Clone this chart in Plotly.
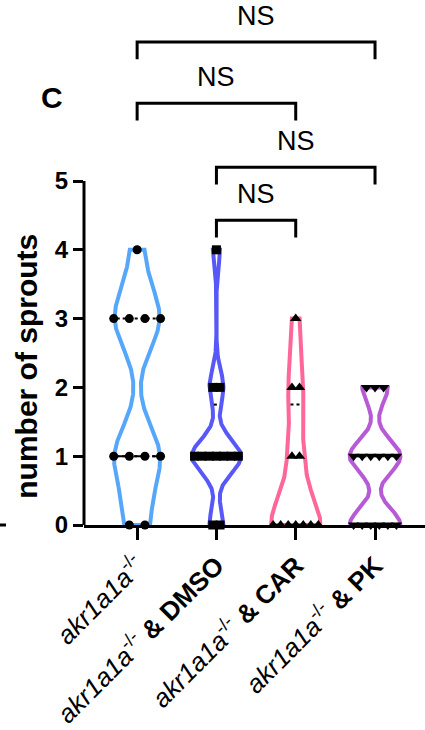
import numpy as np
import plotly.graph_objects as go

# ---------------- data ----------------
group_names = ["akr1a1a-/-", "akr1a1a-/- & DMSO", "akr1a1a-/- & CAR", "akr1a1a-/- & PK"]
tick_labels = [
    "<i>akr1a1a</i><sup>-/-</sup>",
    "<i>akr1a1a</i><sup>-/-</sup><b> & DMSO</b>",
    "<i>akr1a1a</i><sup>-/-</sup><b> & CAR</b>",
    "<i>akr1a1a</i><sup>-/-</sup><b> & PK</b>",
]
akr_values = [0, 0, 1, 1, 1, 1, 3, 3, 3, 3, 4]
dmso_values = [0, 0, 1, 1, 1, 1, 1, 1, 1, 2, 2, 4]
car_values = [0, 0, 0, 0, 0, 0, 0, 1, 1, 2, 2, 3]
pk_values = [0, 0, 0, 0, 0, 0, 1, 1, 1, 1, 1, 1, 2, 2, 2]
y_ticks = [0, 1, 2, 3, 4, 5]
comparisons = [(0, 3, "NS"), (0, 2, "NS"), (1, 3, "NS"), (1, 2, "NS")]

all_values = [akr_values, dmso_values, car_values, pk_values]

# ---------------- style ----------------
colors = ["#56A6FA", "#5858F8", "#FF6699", "#B75AD6"]
symbols = ["circle", "square", "triangle-up", "triangle-down"]
marker_sizes = [9, 9, 10, 10]
point_spacing = [0.197, 0.092, 0.095, 0.108]
violin_widths = [0.58, 0.62, 0.62, 0.64]
bandwidths = [0.45, 0.25, 0.42, 0.24]
VLW = 4
FONT = "Liberation Sans, Arial, sans-serif"

W, H = 425, 730
ML, MR, MT, MB = 84, 0, 0, 205
PW = W - ML - MR
PX_PER_Y = 68.8
PX_PER_X = 79.3
YTOP = (H - MT - MB) / PX_PER_Y
XMIN = -0.67
XMAX = XMIN + PW / PX_PER_X
bracket_levels = [7.02, 6.13, 5.20, 4.43]
bracket_drop = 0.25


def kde(vals, grid, bw):
    v = np.asarray(vals, float)[:, None]
    return np.exp(-0.5 * ((np.asarray(grid, float)[None, :] - v) / bw) ** 2).sum(axis=0)


fig = go.Figure()

# violins (Gaussian KDE, truncated at data range, scaled to a max width)
half_width = []
for i, vals in enumerate(all_values):
    grid = np.linspace(min(vals), max(vals), 300)
    dens = kde(vals, grid, bandwidths[i])
    dmax = dens.max()
    hw_fn = (lambda vals_, bw_, w_, dm_: (lambda y: w_ / 2 * kde(vals_, y, bw_) / dm_))(
        vals, bandwidths[i], violin_widths[i], dmax)
    half_width.append(hw_fn)
    hw = hw_fn(grid)
    xs = np.concatenate([i - hw, (i + hw)[::-1], [i - hw[0]]])
    ys = np.concatenate([grid, grid[::-1], [grid[0]]])
    fig.add_trace(go.Scatter(
        x=xs, y=ys, mode="lines", name=group_names[i],
        line=dict(color=colors[i], width=VLW), showlegend=False,
        hoverinfo="skip", cliponaxis=False,
    ))

# quartile lines (median dashed, quartiles dotted)
for i, vals in enumerate(all_values):
    q1, med, q3 = np.percentile(vals, [25, 50, 75], method="weibull")
    for q, dash in [(q1, "dot"), (q3, "dot"), (med, "dash")]:
        hw = half_width[i](np.array([q]))[0] - 0.025
        hw = max(hw, 0.004)
        fig.add_trace(go.Scatter(
            x=[i - hw, i + hw], y=[q, q], mode="lines",
            line=dict(color="black", width=2, dash=dash),
            showlegend=False, hoverinfo="skip", cliponaxis=False,
        ))

# points arranged in rows
for i, vals in enumerate(all_values):
    xs, ys = [], []
    uniq, counts = np.unique(vals, return_counts=True)
    for u, k in zip(uniq, counts):
        for j in range(k):
            xs.append(i + (j - (k - 1) / 2) * point_spacing[i])
            ys.append(u)
    fig.add_trace(go.Scatter(
        x=xs, y=ys, mode="markers", name=group_names[i],
        marker=dict(symbol=symbols[i], size=marker_sizes[i], color="black", line=dict(width=0)),
        showlegend=False, cliponaxis=False,
    ))

shapes = []
shapes.append(dict(type="line", xref="paper", yref="y", x0=0, x1=0, y0=0, y1=max(y_ticks),
                   line=dict(color="black", width=3)))
shapes.append(dict(type="line", xref="paper", yref="paper", x0=(0 - ML) / PW, x1=(6 - ML) / PW,
                   y0=0, y1=0, line=dict(color="black", width=3)))

annotations = []
for (a, b, label), lev in zip(comparisons, bracket_levels):
    shapes.append(dict(type="path", xref="x", yref="y",
                       path=f"M {a} {lev - bracket_drop} L {a} {lev} L {b} {lev} L {b} {lev - bracket_drop}",
                       line=dict(color="black", width=3)))
    annotations.append(dict(x=(a + b) / 2, y=lev + 0.38, xref="x", yref="y", text=label,
                            showarrow=False, yanchor="middle", xanchor="center",
                            font=dict(family=FONT, size=27, color="black")))

annotations.append(dict(x=(52 - ML) / PW, y=(H - MB - 97) / PX_PER_Y, xref="paper", yref="y",
                        text="<b>C</b>", showarrow=False, xanchor="center", yanchor="middle",
                        font=dict(family=FONT, size=30, color="black")))
annotations.append(dict(x=(27 - ML) / PW, y=2.3, xref="paper", yref="y",
                        text="<b>number of sprouts</b>", showarrow=False, textangle=-90,
                        xanchor="center", yanchor="middle",
                        font=dict(family=FONT, size=30, color="black")))

fig.update_layout(
    width=W, height=H, margin=dict(l=ML, r=MR, t=MT, b=MB, pad=0),
    paper_bgcolor="white", plot_bgcolor="white", showlegend=False,
    shapes=shapes, annotations=annotations,
    xaxis=dict(range=[XMIN, XMAX], tickmode="array", tickvals=list(range(len(tick_labels))),
               ticktext=tick_labels, tickangle=-45, ticks="outside", ticklen=12, tickwidth=3,
               tickcolor="black", showline=True, linecolor="black", linewidth=3,
               showgrid=False, zeroline=False,
               tickfont=dict(family=FONT, size=26, color="black")),
    yaxis=dict(range=[0, YTOP], tickmode="array", tickvals=y_ticks,
               ticktext=[str(t) for t in y_ticks], ticks="outside", ticklen=10, tickwidth=3,
               tickcolor="black", showline=False, showgrid=False, zeroline=False,
               tickfont=dict(family=FONT, size=24, color="black", weight="bold")),
    font=dict(family=FONT, color="black"),
)

fig.write_html("out.html")
